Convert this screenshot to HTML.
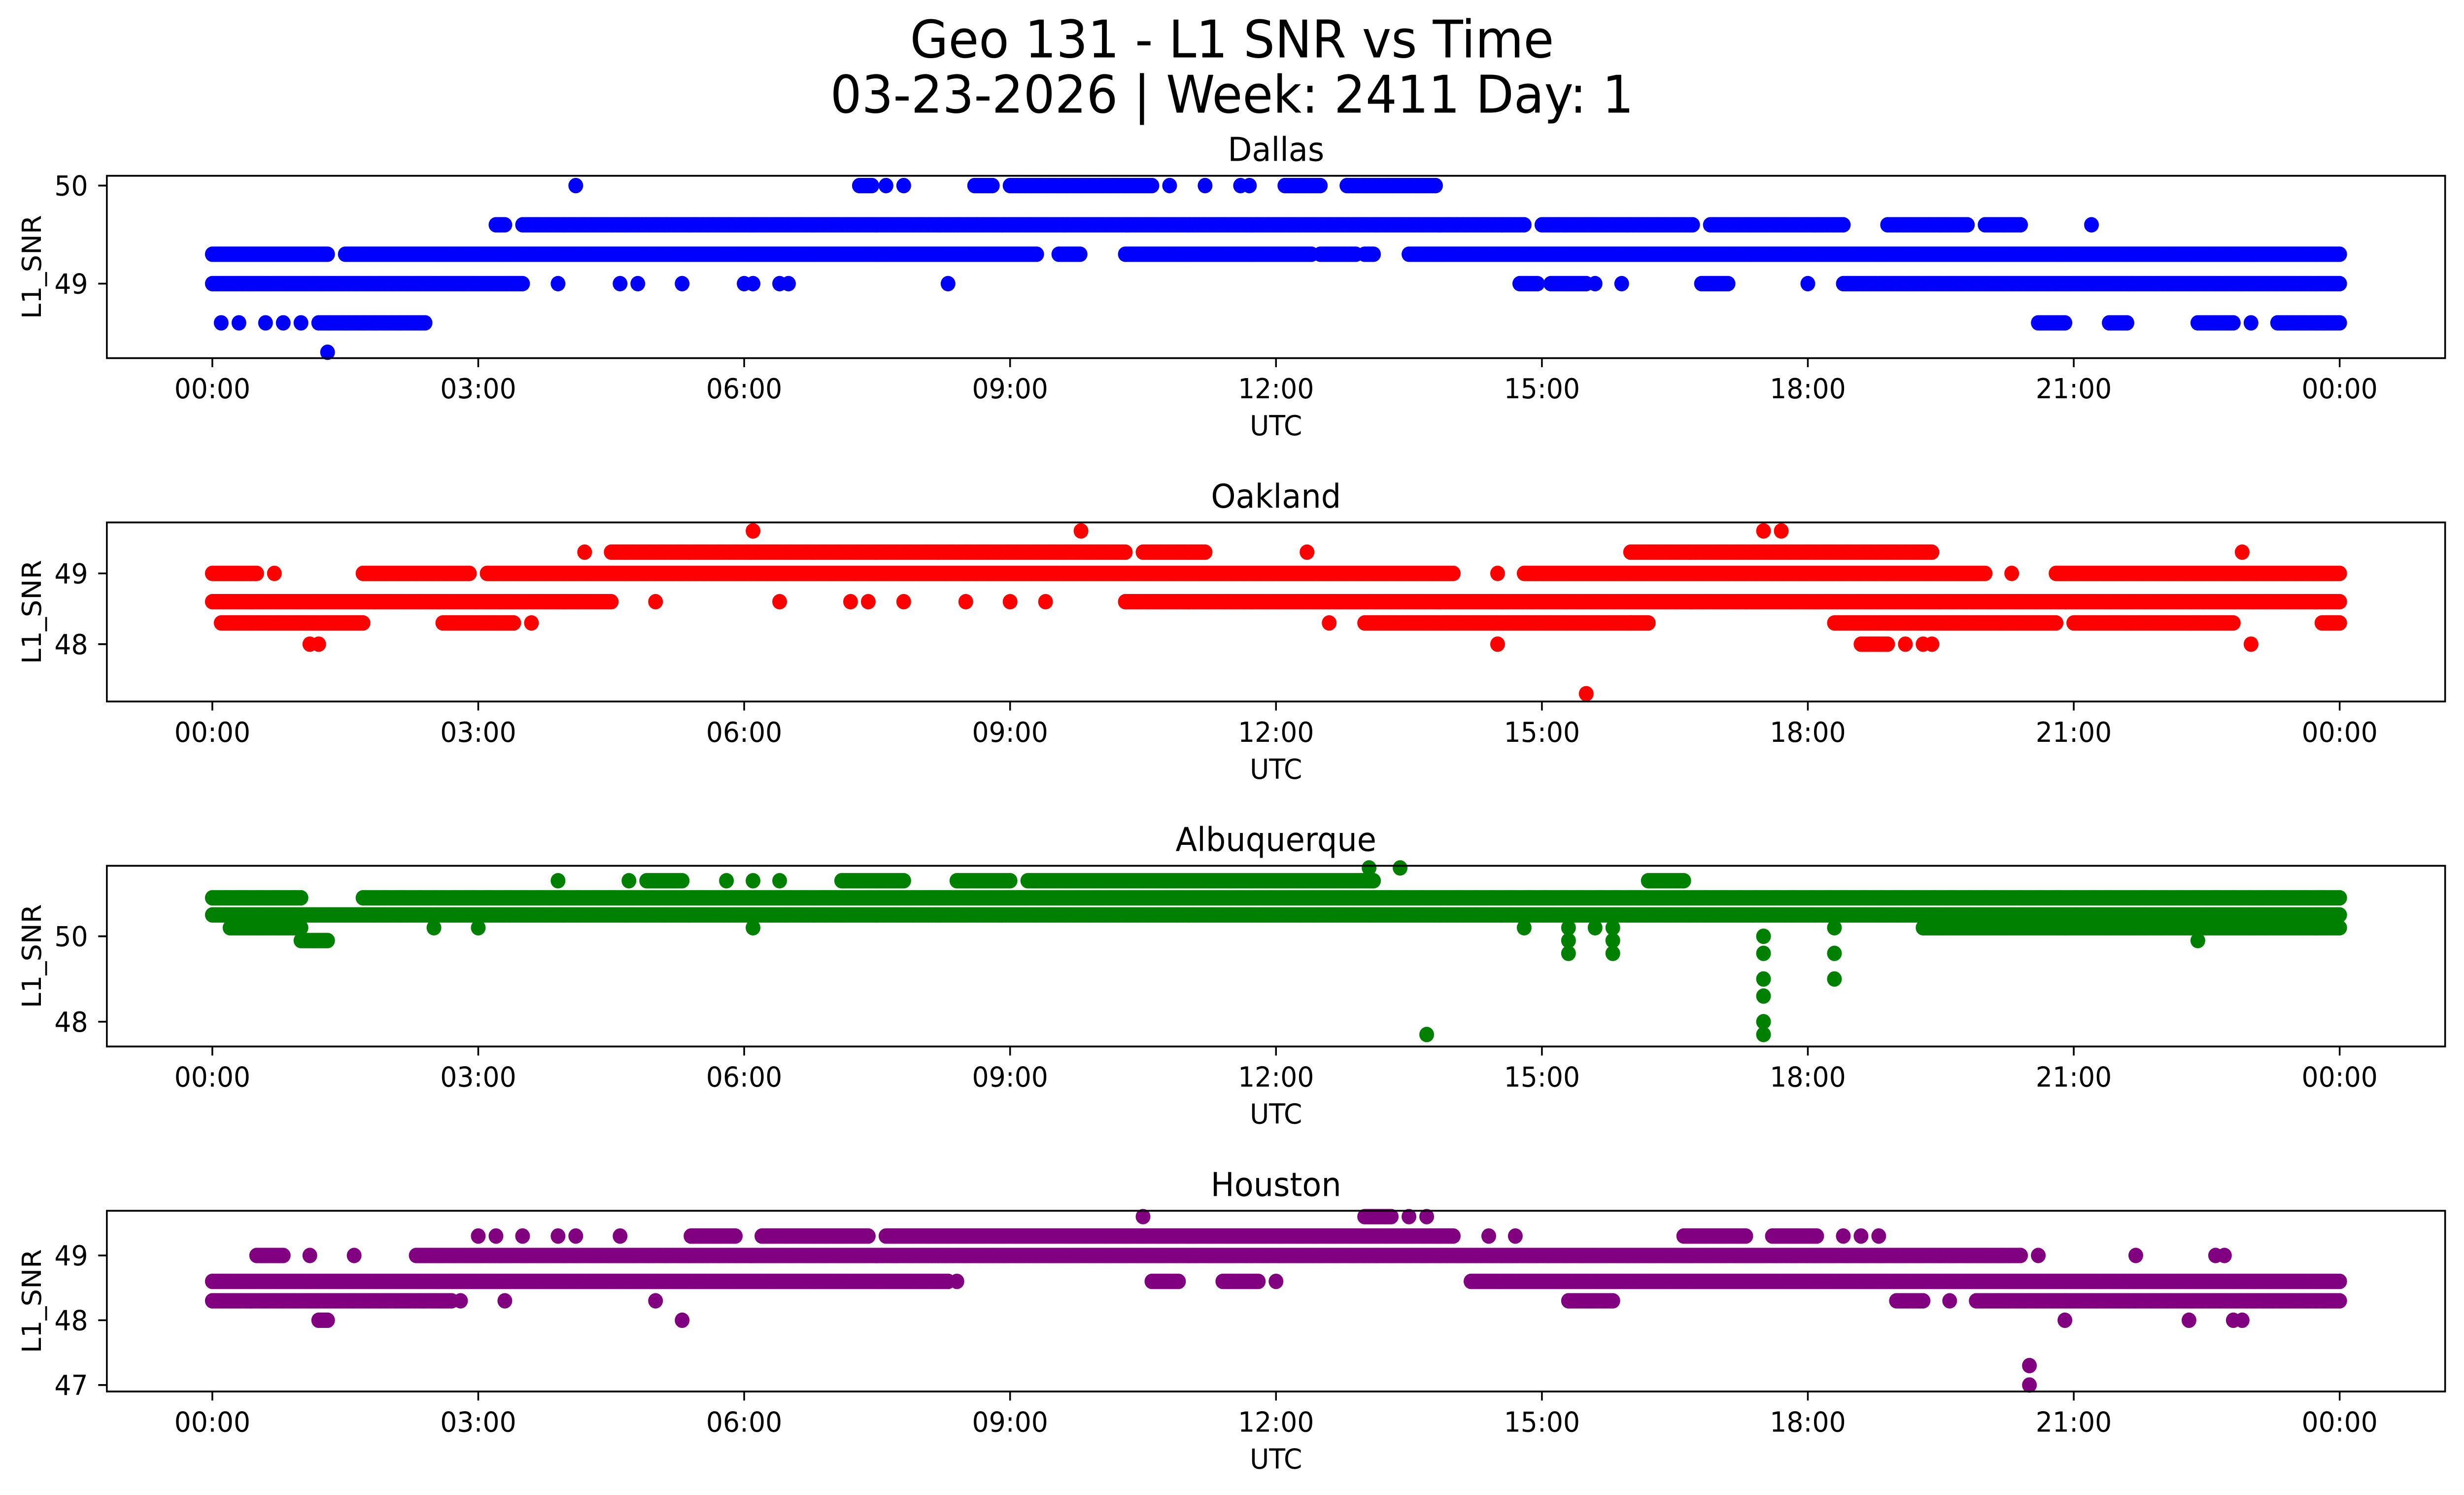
<!DOCTYPE html>
<html><head><meta charset="utf-8"><style>
html,body{margin:0;padding:0;background:#fff;width:100%;height:100%;overflow:hidden}
svg{display:block;width:100vw;height:100vh}
text{font-family:"DejaVu Sans","Liberation Sans",sans-serif;fill:#000}
</style></head><body>
<svg id="chart" viewBox="0 0 1568 910" preserveAspectRatio="none" xmlns="http://www.w3.org/2000/svg">
<rect width="1568" height="910" fill="#fff"/>
<text x="784" y="35" font-size="31.5" text-anchor="middle">Geo 131 - L1 SNR vs Time</text>
<text x="784" y="68.5" font-size="31.5" text-anchor="middle">03-23-2026 | Week: 2411 Day: 1</text>
<g id="panels"></g>
</svg>
<script>
// Data: runs are [startHour, endHour, SNR]; singles are [hour, SNR]
const stations = ["Dallas","Oakland","Albuquerque","Houston"];
const colors = ["#0000ff","#ff0000","#008000","#800080"];
const xTickLabels = ["00:00","03:00","06:00","09:00","12:00","15:00","18:00","21:00","00:00"];
const xTickHours = [0,3,6,9,12,15,18,21,24];

const dallasTicks = [49,50];
const oaklandTicks = [48,49];
const albuqTicks = [48,50];
const houstonTicks = [47,48,49];

const dallasRuns = [[0,3.5,49],[18.4,24,49],[14.75,14.95,49],[15.1,15.5,49],[16.8,17.1,49],
 [0,1.3,49.3],[1.5,9.3,49.3],[9.55,9.8,49.3],[10.3,12.4,49.3],[12.5,12.9,49.3],[13.0,13.1,49.3],[13.5,24,49.3],
 [3.2,3.3,49.6],[3.5,14.8,49.6],[15.0,16.7,49.6],[16.9,18.4,49.6],[18.9,19.8,49.6],[20.0,20.4,49.6],
 [8.6,8.8,50],[9.0,10.6,50],[12.1,12.5,50],[12.8,13.8,50],[7.3,7.45,50],
 [1.2,2.4,48.6],[20.6,20.9,48.6],[21.4,21.6,48.6],[22.4,22.8,48.6],[23.3,24,48.6]];
const dallasSingles = [[3.9,49],[4.6,49],[4.8,49],[5.3,49],[6.0,49],[6.1,49],[6.4,49],[6.5,49],[8.3,49],[15.9,49],[18.0,49],[15.6,49],
 [4.1,50],[7.6,50],[7.8,50],[10.8,50],[11.2,50],[11.6,50],[11.7,50],[21.2,49.6],[23.0,48.6],
 [0.1,48.6],[0.3,48.6],[0.6,48.6],[0.8,48.6],[1.0,48.6],[1.3,48.3]];

const oaklandRuns = [[0,4.5,48.6],[10.3,24,48.6],
 [0,0.5,49],[1.7,2.9,49],[3.1,14.0,49],[14.8,20.0,49],[20.8,24,49],
 [4.5,10.3,49.3],[16.0,19.4,49.3],[10.5,11.2,49.3],
 [0.1,1.7,48.3],[2.6,3.4,48.3],[13.0,16.2,48.3],[18.3,20.8,48.3],[21.0,22.8,48.3],[23.8,24,48.3],
 [18.6,18.9,48.0]];
const oaklandSingles = [[0.7,49],[14.5,49],[20.3,49],[4.2,49.3],[12.35,49.3],[22.9,49.3],
 [5.0,48.6],[6.4,48.6],[7.2,48.6],[7.4,48.6],[7.8,48.6],[8.5,48.6],[9.0,48.6],[9.4,48.6],[3.6,48.3],[12.6,48.3],[16.0,48.3],[17.3,48.6],
 [1.1,48],[1.2,48],[14.5,48],[19.1,48],[19.3,48],[19.4,48],[23.0,48],
 [6.1,49.6],[9.8,49.6],[17.5,49.6],[17.7,49.6],[15.5,47.3]];

const albuqRuns = [[0,24,50.5],[0,1.0,50.9],[1.7,24,50.9],[9.2,13.1,51.3],[19.3,24,50.2],[0.2,1.0,50.2],[1.0,1.3,49.9],
 [7.1,7.8,51.3],[4.9,5.3,51.3],[8.4,9.0,51.3],[16.2,16.6,51.3]];
const albuqSingles = [[3.9,51.3],[4.7,51.3],[5.8,51.3],[6.1,51.3],[6.4,51.3],[2.5,50.2],[3.0,50.2],[6.1,50.2],
 [15.3,50.2],[15.3,49.9],[15.3,49.6],[15.6,50.2],[15.8,50.2],[15.8,49.9],[15.8,49.6],[14.8,50.2],
 [17.5,50.0],[17.5,49.6],[17.5,49.0],[17.5,48.6],[17.5,48.0],[17.5,47.7],
 [18.3,50.2],[18.3,49.6],[18.3,49.0],[13.7,47.7],[13.05,51.6],[13.4,51.6],[22.4,49.9]];

const houstonRuns = [[0,8.3,48.6],[10.6,10.9,48.6],[11.4,11.8,48.6],[14.2,24,48.6],
 [0,2.7,48.3],[15.3,15.8,48.3],[19.0,19.3,48.3],[19.9,24,48.3],
 [2.3,20.4,49],[0.5,0.8,49],
 [5.4,5.9,49.3],[6.2,7.4,49.3],[7.6,14.0,49.3],[16.6,17.3,49.3],[17.6,18.1,49.3],[13.0,13.3,49.6],[1.2,1.3,48.0]];
const houstonSingles = [[1.1,49],[1.6,49],[20.6,49],[21.7,49],[22.6,49],[22.7,49],[3.0,49.3],[3.2,49.3],[3.5,49.3],[3.9,49.3],[4.1,49.3],[4.6,49.3],
 [18.4,49.3],[18.6,49.3],[18.8,49.3],[14.4,49.3],[14.7,49.3],[8.3,48.6],[8.4,48.6],[12.0,48.6],
 [2.8,48.3],[3.3,48.3],[5.0,48.3],[19.6,48.3],
 [10.5,49.6],[13.5,49.6],[13.7,49.6],[5.3,48.0],[20.9,48.0],[22.3,48.0],[22.8,48.0],[22.9,48.0],[20.5,47.3],[20.5,47.0]];

const panels = [
 {top:107,bottom:218,ymin:48.24,ymax:50.1,ticks:dallasTicks,runs:dallasRuns,singles:dallasSingles},
 {top:318,bottom:427,ymin:47.19,ymax:49.72,ticks:oaklandTicks,runs:oaklandRuns,singles:oaklandSingles},
 {top:527,bottom:637,ymin:47.42,ymax:51.65,ticks:albuqTicks,runs:albuqRuns,singles:albuqSingles},
 {top:737,bottom:847,ymin:46.9,ymax:49.69,ticks:houstonTicks,runs:houstonRuns,singles:houstonSingles}];

const NS="http://www.w3.org/2000/svg";
const L=68,R=1556,xmin=-1.19,xmax=25.19;
function xs(h){return L+(h-xmin)/(xmax-xmin)*(R-L);}
function mk(tag,attrs,parent){const e=document.createElementNS(NS,tag);for(const k in attrs)e.setAttribute(k,attrs[k]);parent.appendChild(e);return e;}
const root=document.getElementById('panels');
panels.forEach((p,i)=>{
 const ys=v=>p.bottom-(v-p.ymin)/(p.ymax-p.ymin)*(p.bottom-p.top);
 const g=mk('g',{},root);
 
 
 const t=mk('text',{x:(L+R)/2,y:p.top-9,'font-size':20,'text-anchor':'middle'},g);t.textContent=stations[i];
 
 
 const pts=mk('g',{fill:colors[i]},g);
 
 
 const add=(h,v)=>{mk('circle',{cx:xs(h).toFixed(2),cy:ys(v).toFixed(2),r:4.7},pts);};
 p.runs.forEach(r=>{for(let h=r[0];h<=r[1]+1e-9;h+=0.02)add(h,r[2]);});
 p.singles.forEach(s=>add(s[0],s[1]));
 const frame=mk('rect',{x:L,y:p.top,width:R-L,height:p.bottom-p.top,fill:'none',stroke:'#000','stroke-width':1.1},g);
 
 
 xTickHours.forEach((h,j)=>{
  mk('line',{x1:xs(h),x2:xs(h),y1:p.bottom,y2:p.bottom+5.5,stroke:'#000','stroke-width':1.1},g);
  const tl=mk('text',{x:xs(h),y:p.bottom+24.5,'font-size':16.8,'text-anchor':'middle'},g);tl.textContent=xTickLabels[j];
  
  
 });
 p.ticks.forEach(v=>{
  mk('line',{x1:L-5.5,x2:L,y1:ys(v),y2:ys(v),stroke:'#000','stroke-width':1.1},g);
  const yl=mk('text',{x:L-12,y:ys(v)+6,'font-size':16.8,'text-anchor':'end'},g);yl.textContent=v;
  
  
 });
 const xl=mk('text',{x:(L+R)/2,y:p.bottom+47,'font-size':16.8,'text-anchor':'middle'},g);xl.textContent='UTC';
 
 
 const cy=(p.top+p.bottom)/2;
 const yt=mk('text',{x:26,y:cy,'font-size':16.8,'text-anchor':'middle',transform:'rotate(-90 26 '+cy+')'},g);yt.textContent='L1_SNR';
 
 
});
</script>
</body></html>
